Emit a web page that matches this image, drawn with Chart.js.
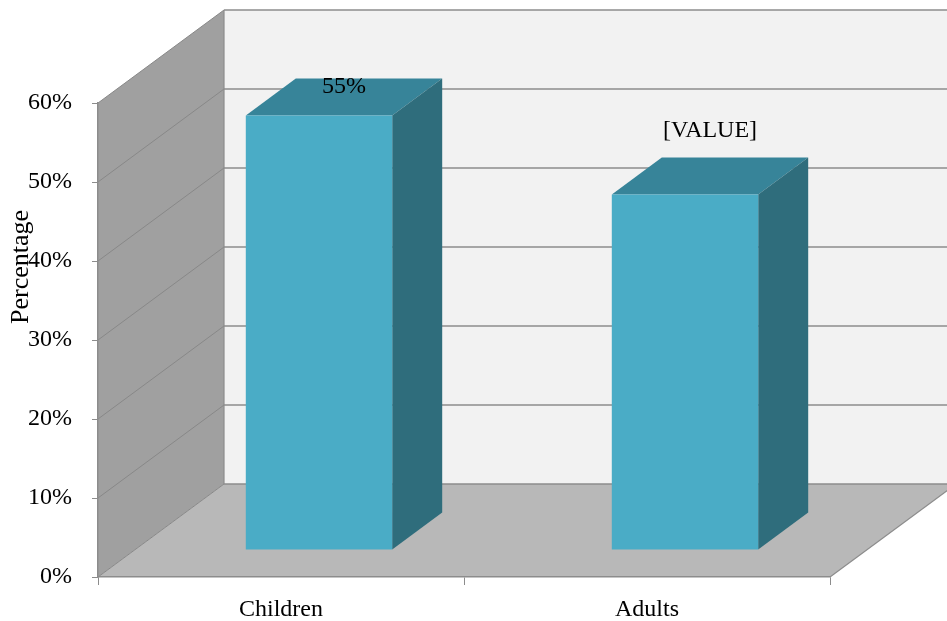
<!DOCTYPE html>
<html>
<head>
<meta charset="utf-8">
<script src="https://cdn.jsdelivr.net/npm/chart.js@4.4.1/dist/chart.umd.min.js"></script>
<style>
  body { margin: 0; background: #fff; }
  #wrap { width: 947px; height: 621px; }
</style>
</head>
<body>
<div id="wrap"><canvas id="chart"></canvas></div>
<script>
// chart data
const categories = ['Children', 'Adults'];
const shares = [0.55, 0.45];
const valueLabels = ['55%', '[VALUE]'];
const yTickLabels = ['0%', '10%', '20%', '30%', '40%', '50%', '60%'];

// look of the fake 3d box
const wall = { dx: 126, dy: -93 };      // full depth of the floor
const barShift = { dx: 38, dy: -27 };   // where the bar front face sits in depth
const barDepth = { dx: 50, dy: -37 };   // depth of each bar
const labelLift = [29, 64];             // value labels sit at different heights in the original

function poly(ctx, pts, fill, stroke) {
    ctx.beginPath();
    ctx.moveTo(pts[0][0], pts[0][1]);
    for (let i = 1; i < pts.length; i++) ctx.lineTo(pts[i][0], pts[i][1]);
    ctx.closePath();
    if (fill) { ctx.fillStyle = fill; ctx.fill(); }
    if (stroke) { ctx.strokeStyle = stroke; ctx.stroke(); }
}

// draws walls, floor and the 3d bars from the chart's own scales
const box3d = {
    id: 'box3d',
    beforeDraw(chart) {
        const ctx = chart.ctx;
        const a = chart.chartArea;
        const ys = chart.scales.y;
        ctx.save();
        ctx.fillStyle = '#fff';
        ctx.fillRect(0, 0, chart.width, chart.height);

        // back wall
        poly(ctx, [[a.left + wall.dx, a.top + wall.dy], [a.right + wall.dx, a.top + wall.dy],
                   [a.right + wall.dx, a.bottom + wall.dy], [a.left + wall.dx, a.bottom + wall.dy]], '#f2f2f2');
        // left wall
        poly(ctx, [[a.left, a.bottom], [a.left, a.top], [a.left + wall.dx, a.top + wall.dy],
                   [a.left + wall.dx, a.bottom + wall.dy]], '#a0a0a0');
        // floor
        poly(ctx, [[a.left, a.bottom], [a.right, a.bottom], [a.right + wall.dx, a.bottom + wall.dy],
                   [a.left + wall.dx, a.bottom + wall.dy]], '#b8b8b8');

        // grid lines on back wall and left wall
        ctx.lineWidth = 1.6;
        ctx.strokeStyle = '#8c8c8c';
        ys.ticks.forEach(t => {
            const y = ys.getPixelForValue(t.value);
            ctx.beginPath();
            ctx.moveTo(a.left + wall.dx, y + wall.dy);
            ctx.lineTo(a.right + wall.dx, y + wall.dy);
            ctx.stroke();
        });
        ctx.lineWidth = 1;
        ctx.strokeStyle = '#888888';
        ys.ticks.forEach(t => {
            const y = ys.getPixelForValue(t.value);
            ctx.beginPath();
            ctx.moveTo(a.left, y);
            ctx.lineTo(a.left + wall.dx, y + wall.dy);
            ctx.stroke();
        });
        ctx.lineWidth = 1.2;
        ctx.strokeStyle = '#8c8c8c';
        ctx.beginPath();
        ctx.moveTo(a.left + wall.dx, a.top + wall.dy);
        ctx.lineTo(a.left + wall.dx, a.bottom + wall.dy);
        ctx.stroke();
        ctx.beginPath();
        ctx.moveTo(a.right, a.bottom);
        ctx.lineTo(a.right + wall.dx, a.bottom + wall.dy);
        ctx.stroke();

        // bars
        const meta = chart.getDatasetMeta(0);
        meta.data.forEach(el => {
            const p = el.getProps(['x', 'y', 'base', 'width'], true);
            const x0 = p.x - p.width / 2 + barShift.dx;
            const x1 = p.x + p.width / 2 + barShift.dx;
            const yt = p.y + barShift.dy;
            const yb = p.base + barShift.dy;
            poly(ctx, [[x0, yt], [x1, yt], [x1 + barDepth.dx, yt + barDepth.dy], [x0 + barDepth.dx, yt + barDepth.dy]], '#378499');
            poly(ctx, [[x1, yt], [x1 + barDepth.dx, yt + barDepth.dy], [x1 + barDepth.dx, yb + barDepth.dy], [x1, yb]], '#2f6d7c');
            poly(ctx, [[x0, yt], [x1, yt], [x1, yb], [x0, yb]], '#4aacc6');
        });
        ctx.restore();
    },
    afterDraw(chart) {
        const ctx = chart.ctx;
        ctx.save();
        ctx.fillStyle = '#000';
        ctx.font = "24px 'Liberation Serif', 'Times New Roman', serif";
        ctx.textAlign = 'center';
        ctx.textBaseline = 'middle';
        const meta = chart.getDatasetMeta(0);
        meta.data.forEach((el, i) => {
            const cx = el.x + barShift.dx + barDepth.dx / 2;
            const cy = el.y + barShift.dy - labelLift[i];
            ctx.fillText(valueLabels[i], cx, cy);
        });
        // y axis title
        ctx.font = "26px 'Liberation Serif', 'Times New Roman', serif";
        ctx.translate(21, 267);
        ctx.rotate(-Math.PI / 2);
        ctx.fillText('Percentage', 0, 0);
        ctx.restore();
    }
};

Chart.defaults.font.family = "'Liberation Serif', 'Times New Roman', serif";
Chart.defaults.font.size = 24;
Chart.defaults.color = '#000';

new Chart(document.getElementById('chart'), {
    type: 'bar',
    data: {
        labels: categories,
        datasets: [{
            label: 'Percentage',
            data: shares,
            backgroundColor: 'rgba(0,0,0,0)',
            borderWidth: 0,
            barPercentage: 1,
            categoryPercentage: 0.4
        }]
    },
    options: {
        responsive: true,
        maintainAspectRatio: false,
        animation: false,
        layout: { padding: { top: 103, right: 117, left: 0, bottom: 0 } },
        plugins: { legend: { display: false }, tooltip: { enabled: false } },
        scales: {
            x: {
                grid: { drawOnChartArea: false, drawTicks: true, tickLength: 8, color: '#8c8c8c', offset: true },
                border: { display: true, color: '#8c8c8c', width: 1.5 },
                ticks: { padding: 10 },
                afterFit(scale) { scale.height = 44; }
            },
            y: {
                min: 0,
                max: 0.6,
                grid: { drawOnChartArea: false, drawTicks: true, tickLength: 6, color: '#8c8c8c' },
                border: { display: true, color: '#8c8c8c', width: 1.5 },
                ticks: {
                    stepSize: 0.1,
                    padding: 20,
                    callback: (v, i) => yTickLabels[i]
                },
                afterFit(scale) { scale.width = 98; }
            }
        }
    },
    plugins: [box3d]
});
</script>
</body>
</html>
